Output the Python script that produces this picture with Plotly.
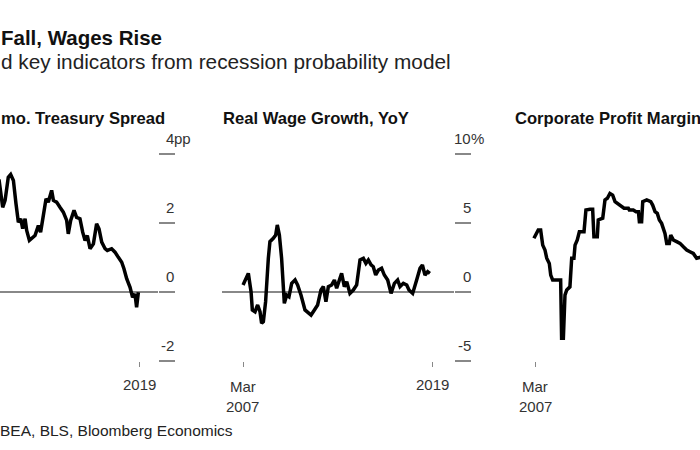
import plotly.graph_objects as go

W, H = 700, 450
FONT = "Liberation Sans, Arial, sans-serif"

# ---------------- data ----------------
spread_year = [2010.25, 2010.31, 2010.48, 2010.63, 2010.83, 2010.98, 2011.15, 2011.31, 2011.46, 2011.61,
               2011.73, 2011.88, 2011.98, 2012.15, 2012.29, 2012.50, 2012.71, 2012.85, 2013.02, 2013.19,
               2013.33, 2013.54, 2013.65, 2013.85, 2014.06, 2014.27, 2014.48, 2014.58, 2014.73, 2014.94,
               2015.10, 2015.31, 2015.48, 2015.63, 2015.77, 2015.94, 2016.15, 2016.35, 2016.50, 2016.67,
               2016.88, 2017.02, 2017.29, 2017.50, 2017.71, 2017.92, 2018.06, 2018.23, 2018.44, 2018.60,
               2018.75, 2018.85, 2018.96]
spread_pp = [3.25, 3.07, 2.44, 2.64, 3.31, 3.39, 3.22, 2.55, 2.01, 2.11,
             1.82, 2.11, 1.77, 1.48, 1.53, 1.62, 1.91, 1.72, 2.20, 2.69,
             2.59, 2.93, 2.64, 2.59, 2.44, 2.30, 2.06, 1.67, 2.06, 2.35,
             2.15, 2.11, 1.72, 1.48, 1.62, 1.24, 1.38, 1.96, 1.82, 1.43,
             1.24, 1.19, 1.24, 1.14, 0.99, 0.85, 0.66, 0.37, 0.12, -0.17,
             -0.07, -0.46, -0.02]

wage_year = [2007.17, 2007.25, 2007.50, 2007.67, 2007.75, 2007.92, 2008.08, 2008.23, 2008.33, 2008.44,
             2008.58, 2008.75, 2008.85, 2009.06, 2009.21, 2009.31, 2009.44, 2009.58, 2009.69, 2009.75,
             2009.90, 2010.04, 2010.21, 2010.42, 2010.58, 2010.79, 2011.04, 2011.25, 2011.42, 2011.63,
             2011.83, 2012.04, 2012.19, 2012.35, 2012.50, 2012.71, 2012.88, 2013.02, 2013.17, 2013.33,
             2013.50, 2013.65, 2013.85, 2014.06, 2014.27, 2014.48, 2014.69, 2014.85, 2015.00, 2015.17,
             2015.31, 2015.46, 2015.63, 2015.83, 2016.00, 2016.21, 2016.42, 2016.63, 2016.83, 2016.98,
             2017.19, 2017.40, 2017.54, 2017.77, 2018.02, 2018.23, 2018.38, 2018.54, 2018.71, 2018.85]
wage_yoy = [0.51, 0.75, 1.35, 0.02, -1.30, -1.43, -0.94, -1.43, -2.27, -2.15,
            -0.70, 2.44, 3.65, 3.89, 4.13, 4.86, 4.13, 2.44, 0.27, -0.82,
            -0.22, -0.34, 0.63, 0.87, 0.51, -0.22, -1.30, -1.55, -1.67, -1.30,
            -0.94, 0.14, 0.39, -0.70, 0.39, 0.51, 0.87, 0.27, 0.75, 1.35,
            0.39, 0.75, -0.10, 0.14, 0.51, 2.32, 2.44, 2.08, 2.32, 1.96,
            1.83, 1.23, 1.59, 1.72, 1.23, 0.87, -0.10, 0.63, 0.87, 0.39,
            0.63, 0.51, 0.14, -0.10, 0.87, 1.72, 1.96, 1.23, 1.47, 1.35]

margin_year = [2007.10, 2007.37, 2007.52, 2007.65, 2007.79, 2007.90, 2008.06, 2008.15, 2008.27, 2008.69,
               2008.77, 2008.83, 2008.94, 2009.04, 2009.15, 2009.35, 2009.46, 2009.60, 2009.67, 2009.81,
               2009.94, 2010.23, 2010.35, 2010.60, 2010.77, 2010.85, 2011.06, 2011.12, 2011.40, 2011.54,
               2011.69, 2011.85, 2012.02, 2012.17, 2012.31, 2012.44, 2012.58, 2012.73, 2013.00, 2013.06,
               2013.31, 2013.48, 2013.63, 2013.69, 2013.83, 2013.90, 2014.15, 2014.40, 2014.52, 2014.67,
               2014.81, 2014.94, 2015.08, 2015.19, 2015.29, 2015.40, 2015.56, 2015.65, 2015.81, 2016.02,
               2016.23, 2016.44, 2016.65, 2016.85, 2017.06, 2017.27, 2017.48, 2017.70]
margin_pct = [11.53, 11.77, 11.77, 11.33, 11.19, 10.95, 10.80, 10.46, 10.32, 10.32,
              10.32, 8.63, 8.63, 9.88, 10.03, 10.12, 10.95, 10.95, 11.33, 11.48,
              11.72, 11.72, 12.35, 12.37, 12.37, 11.57, 11.57, 12.06, 12.11, 12.64,
              12.69, 12.83, 12.78, 12.59, 12.54, 12.49, 12.45, 12.40, 12.40, 12.35,
              12.35, 12.30, 12.30, 12.01, 12.01, 12.59, 12.64, 12.59, 12.49, 12.30,
              12.25, 12.06, 11.96, 11.82, 11.67, 11.38, 11.38, 11.62, 11.48, 11.43,
              11.38, 11.28, 11.19, 11.14, 11.09, 10.95, 10.99, 11.00]

first_tick = 2007 + 2 / 12   # Mar 2007
last_tick = 2019.0
spread_ticks = [-2, 0, 2, 4]
spread_labels = ["-2", "0", "2", "4"]
wage_ticks = [-5, 0, 5, 10]
wage_labels = ["-5", "0", "5", "10"]

title = "Fall, Wages Rise"
subtitle = "d key indicators from recession probability model"
panel_titles = ["mo. Treasury Spread", "Real Wage Growth, YoY", "Corporate Profit Margin"]
source = "BEA, BLS, Bloomberg Economics"

# ---------------- layout geometry (pixels) ----------------
TOP, BOT = 130, 361
PX_PER_YEAR = 16.0
panels = [
    dict(dom=(0, 158), p0=139 - (last_tick - first_tick) * PX_PER_YEAR, zpx=291.5, ppu=34.5, ref=0),
    dict(dom=(222, 454), p0=243, zpx=292.0, ppu=13.8, ref=0),
    dict(dom=(514, 700), p0=535, zpx=291.0, ppu=34.5, ref=10),
]


def px(x):
    return x / W


def py(y):
    return 1 - y / H


fig = go.Figure()
series = [(spread_year, spread_pp), (wage_year, wage_yoy), (margin_year, margin_pct)]
for i, (xs, ys) in enumerate(series):
    sfx = "" if i == 0 else str(i + 1)
    fig.add_trace(go.Scatter(x=xs, y=ys, mode="lines", xaxis="x" + sfx, yaxis="y" + sfx,
                             line=dict(color="#000000", width=3.5), hoverinfo="skip"))

layout = dict(template="none", width=W, height=H, autosize=False,
              margin=dict(l=0, r=0, t=0, b=0, pad=0, autoexpand=False),
              paper_bgcolor="white", plot_bgcolor="white", showlegend=False,
              font=dict(family=FONT, color="#222"))

tickvals_x = [[last_tick], [first_tick, last_tick], [first_tick]]
tickvals_y = [spread_ticks, wage_ticks, []]
for i, p in enumerate(panels):
    sfx = "" if i == 0 else str(i + 1)
    a, b = p["dom"]
    xr = [first_tick + (a - p["p0"]) / PX_PER_YEAR, first_tick + (b - p["p0"]) / PX_PER_YEAR]
    yr = [p["ref"] + (p["zpx"] - BOT) / p["ppu"], p["ref"] + (p["zpx"] - TOP) / p["ppu"]]
    layout["xaxis" + sfx] = dict(domain=[px(a), px(b)], range=xr, anchor="y" + sfx, automargin=False,
                                 showgrid=False, zeroline=False, showline=False,
                                 ticks="outside", ticklen=5, tickwidth=1, tickcolor="#888",
                                 tickvals=tickvals_x[i], showticklabels=False, fixedrange=True)
    layout["yaxis" + sfx] = dict(domain=[py(BOT), py(TOP)], range=yr, anchor="x" + sfx, side="right",
                                 automargin=False,
                                 showgrid=False, zeroline=(i < 2), zerolinecolor="#888", zerolinewidth=1.5,
                                 showline=False, ticks="outside", ticklen=16, tickwidth=1.5,
                                 tickcolor="#888", tickvals=tickvals_y[i], showticklabels=False,
                                 fixedrange=True)
fig.update_layout(**layout)

ann = []
ann.append(dict(text="<b>" + title + "</b>", x=px(-1.5), y=py(38), xref="paper", yref="paper",
                xanchor="left", yanchor="middle", showarrow=False,
                font=dict(size=20.5, color="#111", family=FONT)))
ann.append(dict(text=subtitle, x=px(-0.8), y=py(61.5), xref="paper", yref="paper",
                xanchor="left", yanchor="middle", showarrow=False,
                font=dict(size=20.8, color="#222", family=FONT)))
for xpos, t in zip([-1, 221, 513], panel_titles):
    ann.append(dict(text="<b>" + t + "</b>", x=px(xpos), y=py(118.5), xref="paper", yref="paper",
                    xanchor="left", yanchor="middle", showarrow=False,
                    font=dict(size=16.6, color="#111", family=FONT)))
tick_font = dict(size=15, color="#333", family=FONT)
for (yref, vals, labs, xr_px, suffix) in [("y", spread_ticks, spread_labels, 175, "pp"),
                                          ("y2", wage_ticks, wage_labels, 472, "%")]:
    for v, lab in zip(vals, labs):
        ann.append(dict(text=lab, x=px(xr_px), y=v, xref="paper", yref=yref, xanchor="right",
                        yanchor="middle", yshift=15.5, showarrow=False, borderpad=0, font=tick_font))
    ann.append(dict(text=suffix, x=px(xr_px - 2.5), y=vals[-1], xref="paper", yref=yref, xanchor="left",
                    yanchor="middle", yshift=15.5, showarrow=False, borderpad=0, font=tick_font))
for xref in ["x", "x2"]:
    ann.append(dict(text="2019", x=last_tick, y=py(384), xref=xref, yref="paper", xanchor="center",
                    yanchor="middle", showarrow=False, font=tick_font))
for xref in ["x2", "x3"]:
    ann.append(dict(text="Mar", x=first_tick, y=py(386), xref=xref, yref="paper", xanchor="center",
                    yanchor="middle", showarrow=False, font=tick_font))
    ann.append(dict(text="2007", x=first_tick, y=py(406.5), xref=xref, yref="paper", xanchor="center",
                    yanchor="middle", showarrow=False, font=tick_font))
ann.append(dict(text=source, x=px(-2), y=py(430), xref="paper", yref="paper", xanchor="left",
                yanchor="middle", showarrow=False, font=dict(size=15.5, color="#222", family=FONT)))

fig.update_layout(annotations=ann)

post = ("document.documentElement.style.margin='0';document.body.style.margin='0';"
        "document.body.style.overflow='hidden';document.documentElement.style.overflow='hidden';")
fig.write_html("out.html", config={"displayModeBar": False, "responsive": False},
               default_width="700px", default_height="450px", post_script=post)
